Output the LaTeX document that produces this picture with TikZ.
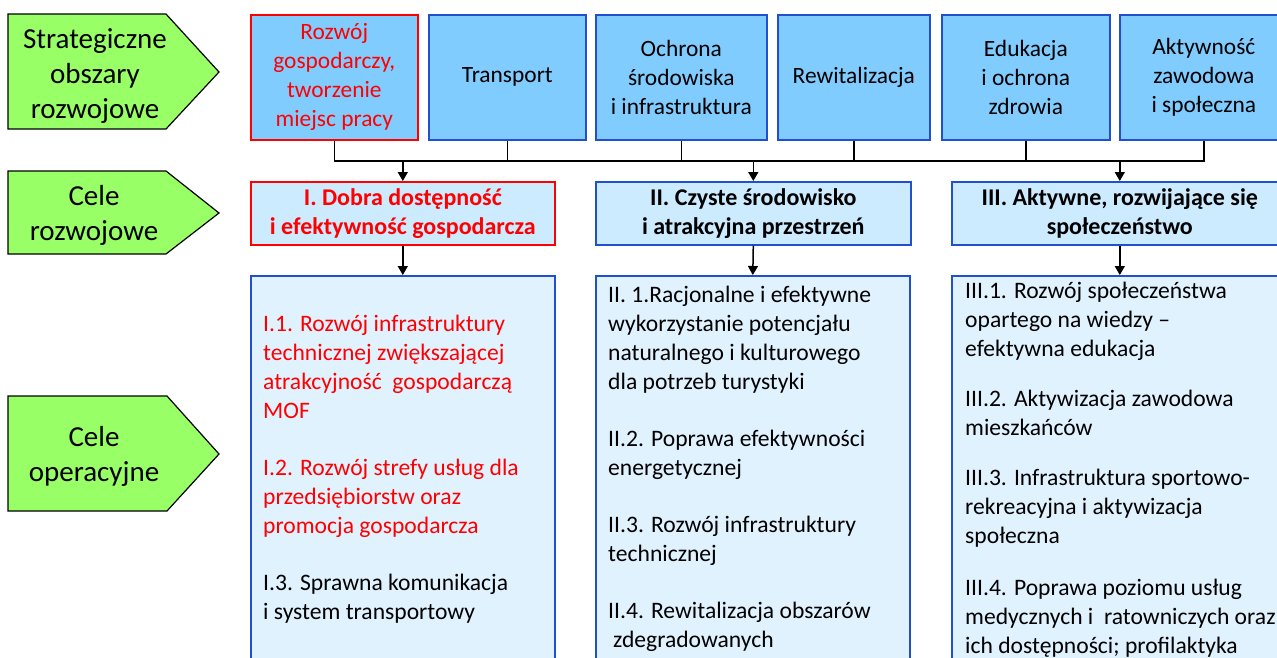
\documentclass[tikz,border=0pt]{standalone}
\usepackage{fontspec}
\setmainfont{Carlito}
\usetikzlibrary{arrows.meta}
\definecolor{gfill}{HTML}{99FF66}
\definecolor{tfill}{HTML}{80CCFF}
\definecolor{mfill}{HTML}{CCEBFF}
\definecolor{bfill}{HTML}{E1F2FF}
\definecolor{bblue}{HTML}{2050D0}
\definecolor{rred}{HTML}{FF0000}
\begin{document}
\begin{tikzpicture}[x=1pt,y=-1pt,
  box/.style={draw=bblue, line width=1.6pt, inner sep=0pt, anchor=north west},
  topbox/.style={box, fill=tfill, align=center, font=\fontsize{23.4}{29}\selectfont},
  midbox/.style={box, fill=mfill, align=center, font=\bfseries\fontsize{24}{29}\selectfont},
  lowbox/.style={box, fill=bfill},
  redb/.style={draw=rred, text=rred},
  greenshape/.style={draw=black, line width=1.2pt, fill=gfill},
  glabel/.style={align=center, font=\fontsize{29}{35}\selectfont},
  conn/.style={draw=black, line width=1.5pt},
  arr/.style={conn, -{Triangle[length=9pt,width=10pt]}},
  itemtext/.style={anchor=north west, align=left, inner sep=0pt, font=\fontsize{23.6}{29}\selectfont}
]
\useasboundingbox (0,0) rectangle (1277,657);
\clip (0,0) rectangle (1277,657);
\fill[white] (0,0) rectangle (1277,657);

% green labels
\draw[greenshape] (8,14) -- (166,14) -- (219,72) -- (166,129) -- (8,129) -- cycle;
\node[glabel] (g1) at (95,76) {Strategiczne\\obszary\\rozwojowe};
\draw[greenshape] (8,171) -- (166,171) -- (219,213) -- (166,254) -- (8,254) -- cycle;
\node[glabel] (g2) at (94,215) {Cele\\rozwojowe};
\draw[greenshape] (8,396) -- (167,396) -- (219,454) -- (167,511) -- (8,511) -- cycle;
\node[glabel] (g3) at (94,456) {Cele\\operacyjne};

% top boxes
\node[topbox, redb, minimum width=167pt, minimum height=125pt] (a1) at (250,14) {Rozwój\\gospodarczy,\\tworzenie\\miejsc pracy};
\node[topbox, minimum width=157pt, minimum height=125pt] (a2) at (428,14) {Transport};
\node[topbox, minimum width=171pt, minimum height=125pt] (a3) at (595,14) {Ochrona\\środowiska\\i infrastruktura};
\node[topbox, minimum width=152pt, minimum height=125pt] (a4) at (777,14) {Rewitalizacja};
\node[topbox, minimum width=168pt, minimum height=125pt] (a5) at (941,14) {Edukacja\\i ochrona\\zdrowia};
\node[topbox, minimum width=168pt, minimum height=125pt] (a6) at (1119,14) {Aktywność\\zawodowa\\i społeczna};

% middle boxes
\node[midbox, redb, minimum width=304pt, minimum height=63pt] (c1) at (250,181) {I. Dobra dostępność\\i efektywność gospodarcza};
\node[midbox, minimum width=315pt, minimum height=63pt] (c2) at (595,181) {II. Czyste środowisko\\i atrakcyjna przestrzeń};
\node[midbox, minimum width=336pt, minimum height=63pt] (c3) at (951,181) {III. Aktywne, rozwijające się\\społeczeństwo};

% lower boxes
\node[lowbox, minimum width=304pt, minimum height=420pt] (d1) at (250,275) {};
\node[lowbox, minimum width=314pt, minimum height=420pt] (d2) at (595,275) {};
\node[lowbox, minimum width=336pt, minimum height=420pt] (d3) at (951,275) {};

% connectors
\coordinate (bus) at (0,161);
\draw[conn] (a1.south) |- (a6.south |- bus) -- (a6.south);
\foreach \n in {a2,a3,a4,a5} \draw[conn] (\n.south) -- (\n.south |- bus);
\draw[arr] (c1.north |- bus) -- (c1.north);
\draw[arr] (c2.north |- bus) -- (c2.north);
\draw[arr] (c3.north |- bus) -- (c3.north);
\draw[arr] (c1.south) -- (d1.north);
\draw[arr] (c2.south) -- (d2.north);
\draw[arr] (c3.south) -- (d3.north);

% texts of operational goals
\node[itemtext, text=rred] (t1) at (263,315) {I.1. Rozwój infrastruktury\\technicznej zwiększającej\\atrakcyjność\ \ gospodarczą\\MOF\\[28pt]I.2. Rozwój strefy usług dla\\przedsiębiorstw oraz\\promocja gospodarcza};
\node[itemtext] (t1b) at (263,574) {I.3. Sprawna komunikacja\\i system transportowy};
\node[itemtext] (t2) at (608,286) {II. 1.Racjonalne i efektywne\\wykorzystanie potencjału\\naturalnego i kulturowego\\dla potrzeb turystyki\\[28pt]II.2. Poprawa efektywności\\energetycznej\\[28pt]II.3. Rozwój infrastruktury\\technicznej\\[28pt]II.4. Rewitalizacja obszarów\\\hspace{5pt}zdegradowanych};
\node[itemtext] (t3) at (965,282) {III.1. Rozwój społeczeństwa\\opartego na wiedzy --\\efektywna edukacja\\[21pt]III.2. Aktywizacja zawodowa\\mieszkańców\\[21pt]III.3. Infrastruktura sportowo-\\rekreacyjna i aktywizacja\\społeczna\\[23pt]III.4. Poprawa poziomu usług\\medycznych i\ \ ratowniczych oraz\\ich dostępności; profilaktyka};
\end{tikzpicture}
\end{document}
